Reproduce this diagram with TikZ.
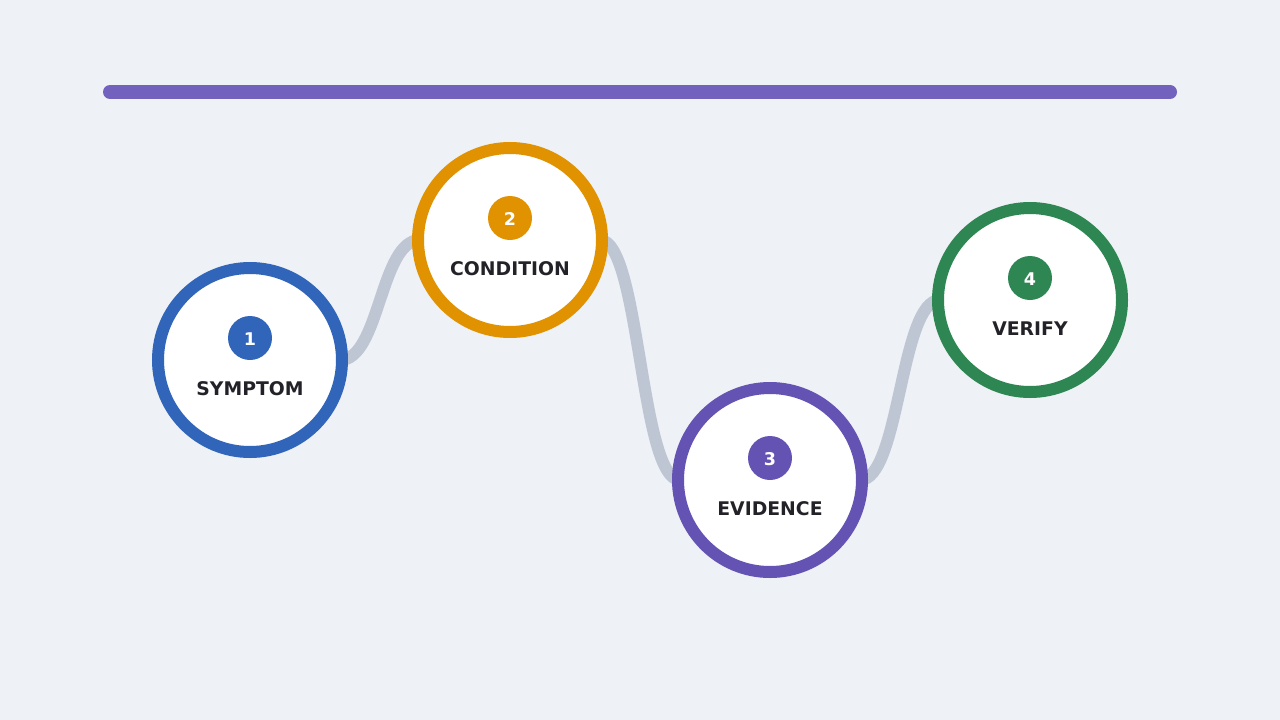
\documentclass[tikz,border=0pt]{standalone}
\usepackage{fontspec}
\setmainfont{DejaVu Sans}
\definecolor{bg}{HTML}{EEF1F6}
\definecolor{bar}{HTML}{7262BE}
\definecolor{cblue}{HTML}{3065B9}
\definecolor{corange}{HTML}{E09200}
\definecolor{cpurple}{HTML}{6553B4}
\definecolor{cgreen}{HTML}{2E8653}
\definecolor{link}{HTML}{BFC6D3}
\definecolor{ink}{HTML}{222228}
\begin{document}
\begin{tikzpicture}[x=1pt,y=-1pt,
  ring/.style={circle,draw=#1,line width=12pt,fill=white,minimum size=184pt,inner sep=0pt},
  badge/.style={circle,fill=#1,minimum size=44pt,inner sep=0pt},
  num/.style={text=white,font=\bfseries\fontsize{17.5}{17.5}\selectfont,inner sep=0pt},
  lbl/.style={text=ink,font=\bfseries\fontsize{18.8}{18.8}\selectfont,inner sep=0pt},
  linkline/.style={draw=link,line width=12pt}]
\fill[bg] (0,0) rectangle (1280,720);
\useasboundingbox (0,0) rectangle (1280,720);
\draw[bar,line width=14pt,line cap=round] (110,92) -- (1170,92);
% anchor coordinates for connectors
\coordinate (a1) at (340,360);
\coordinate (b2) at (420,240);
\coordinate (a2) at (600,240);
\coordinate (b3) at (680,480);
\coordinate (a3) at (860,480);
\coordinate (b4) at (940,300);
\draw[linkline] (a1) .. controls (380,360) and (380,240) .. (b2);
\draw[linkline] (a2) .. controls (640,240) and (640,480) .. (b3);
\draw[linkline] (a3) .. controls (900,480) and (900,300) .. (b4);
% rings
\node[ring=cblue] (n1) at (250,360) {};
\node[ring=corange] (n2) at (510,240) {};
\node[ring=cpurple] (n3) at (770,480) {};
\node[ring=cgreen] (n4) at (1030,300) {};
% badges
\node[badge=cblue] (k1) at (250,338) {};
\node[badge=corange] (k2) at (510,218) {};
\node[badge=cpurple] (k3) at (770,458) {};
\node[badge=cgreen] (k4) at (1030,278) {};
\node[num] at (250,339.5) {1};
\node[num] at (510,219.5) {2};
\node[num] at (770,459.5) {3};
\node[num] at (1030,279.5) {4};
% labels
\node[lbl] (t1) at (250,388.5) {SYMPTOM};
\node[lbl] (t2) at (510,268.5) {CONDITION};
\node[lbl] (t3) at (770,508.5) {EVIDENCE};
\node[lbl] (t4) at (1030,328.5) {VERIFY};
\end{tikzpicture}
\end{document}
